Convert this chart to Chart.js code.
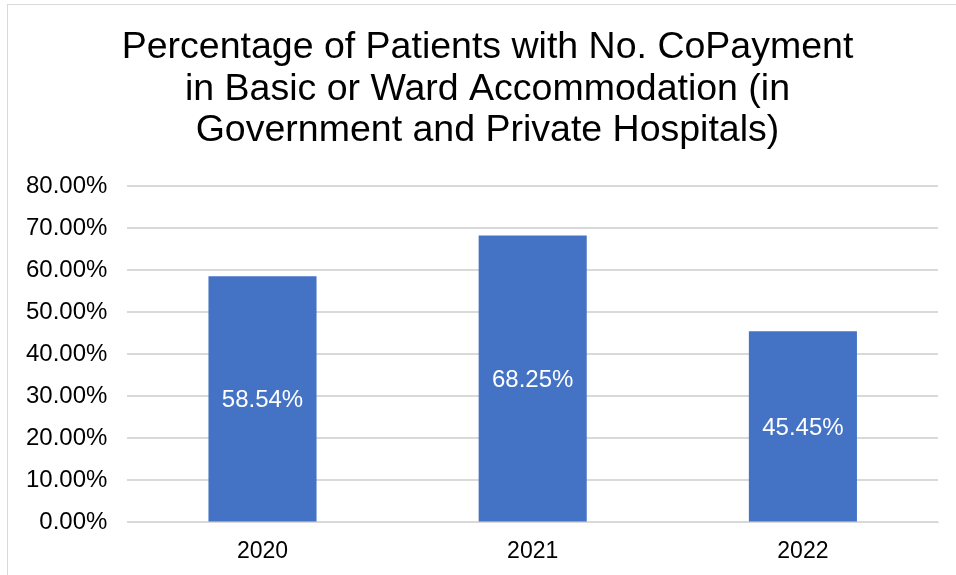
<!DOCTYPE html>
<html>
  <head>
    <meta charset="utf-8"/>
    <script src="https://cdn.jsdelivr.net/npm/chart.js@4/dist/chart.umd.min.js"></script>
    <style>
      html, body { margin: 0; padding: 0; background: #ffffff; }
      #chart-holder { position: relative; width: 956px; height: 575px; }
    </style>
  </head>
  <body>
    <div id="chart-holder">
      <canvas id="chart-area"></canvas>
    </div>
    <script>
      // chart data
      var years = ['2020', '2021', '2022'];
      var noCoPayment = [58.54, 68.25, 45.45];
      var titleLines = ['Percentage of Patients with No. CoPayment', 'in Basic or Ward Accommodation (in', 'Government and Private Hospitals)'];

      var fontFamily = '"Liberation Sans", Arial, sans-serif';

      // white value labels in the middle of each bar
      var barLabels = {
        id: 'barLabels',
        afterDatasetsDraw: function(chart) {
          var ctx = chart.ctx;
          var meta = chart.getDatasetMeta(0);
          ctx.save();
          ctx.fillStyle = '#ffffff';
          ctx.font = '24px ' + fontFamily;
          ctx.textAlign = 'center';
          ctx.textBaseline = 'middle';
          meta.data.forEach(function(bar, i) {
            var mid = (bar.y + bar.base) / 2 + 2;
            ctx.fillText(noCoPayment[i].toFixed(2) + '%', bar.x, mid);
          });
          ctx.restore();
        }
      };

      // white background, grey frame and the 3-line title
      // (title centred on the original chart box, which is wider than the window)
      var frameAndTitle = {
        id: 'frameAndTitle',
        beforeDraw: function(chart) {
          var ctx = chart.ctx;
          ctx.save();
          ctx.fillStyle = '#ffffff';
          ctx.fillRect(0, 0, chart.width, chart.height);
          ctx.strokeStyle = '#d9d9d9';
          ctx.lineWidth = 1;
          ctx.strokeRect(7.5, 4.5, chart.width + 10, chart.height + 10);
          ctx.fillStyle = '#000000';
          ctx.font = '37.5px ' + fontFamily;
          ctx.textAlign = 'center';
          ctx.textBaseline = 'alphabetic';
          titleLines.forEach(function(line, i) {
            ctx.fillText(line, 487.5, 58 + i * 41.5);
          });
          ctx.restore();
        }
      };

      var ctx = document.getElementById('chart-area').getContext('2d');
      var chart = new Chart(ctx, {
        type: 'bar',
        data: {
          labels: years,
          datasets: [{
            label: 'No CoPayment',
            data: noCoPayment,
            backgroundColor: '#4472c4',
            borderWidth: 0,
            categoryPercentage: 1.0,
            barPercentage: 0.4
          }]
        },
        options: {
          responsive: true,
          maintainAspectRatio: false,
          animation: false,
          layout: { padding: { left: 6, right: 18, top: 186, bottom: 3 } },
          plugins: {
            legend: { display: false },
            tooltip: { enabled: false },
            title: { display: false }
          },
          scales: {
            x: {
              grid: { display: false },
              border: { color: '#d9d9d9' },
              ticks: {
                color: '#000000',
                font: { family: fontFamily, size: 23 },
                padding: 7
              }
            },
            y: {
              min: 0,
              max: 80,
              ticks: {
                stepSize: 10,
                color: '#000000',
                font: { family: fontFamily, size: 24 },
                padding: 20,
                callback: function(v) { return v.toFixed(2) + '%'; }
              },
              grid: { color: '#d9d9d9', lineWidth: 2, drawTicks: false },
              border: { display: false }
            }
          }
        },
        plugins: [frameAndTitle, barLabels]
      });
    </script>
  </body>
</html>
